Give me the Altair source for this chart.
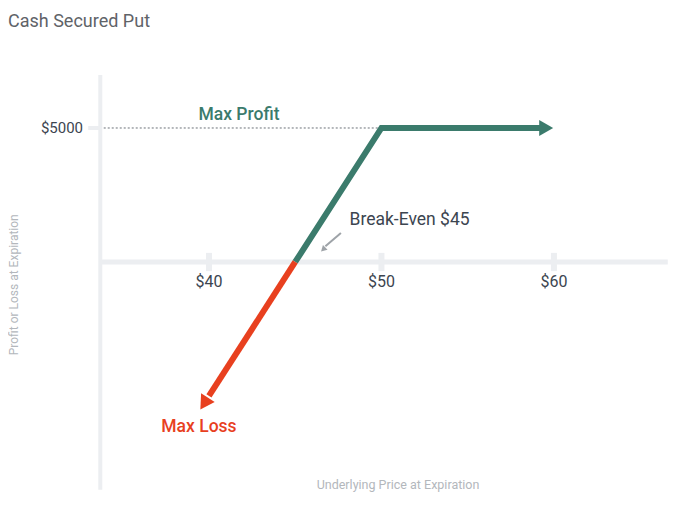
import altair as alt
import pandas as pd

# ---- data ----
profit_x = [45, 50, 59.3]          # green segment (underlying price)
profit_y = [0, 5000, 5000]         # P/L
loss_x = [45, 40.0]                # red segment
loss_y = [0, -5000]
green_head = (59.55, 5000)
red_head = (39.72, -5280)
tick_prices = [40, 50, 60]
tick_labels = ["$40", "$50", "$60"]
max_profit = 5000

GREEN = "#3b7b6c"
RED = "#e8401f"
AXIS = "#eceef1"
TEXT = "#3c4550"
LIGHT = "#b3b7bc"
FONT = "Roboto"

xs = alt.Scale(domain=[28.35, 67.25], nice=False, zero=False)
ys = alt.Scale(domain=[-8918, 7985], nice=False, zero=False)

def X(f="x"):
    return alt.X(f"{f}:Q", scale=xs, axis=None)

def Y(f="y"):
    return alt.Y(f"{f}:Q", scale=ys, axis=None)

# axis lines
vaxis = alt.Chart(pd.DataFrame({"x": [33.7], "y": [6980], "y2": [-8500]})).mark_rule(
    color=AXIS, strokeWidth=4).encode(x=X(), y=Y(), y2="y2:Q")
haxis = alt.Chart(pd.DataFrame({"x": [33.7], "x2": [66.6], "y": [0]})).mark_rule(
    color=AXIS, strokeWidth=5).encode(x=X(), x2="x2:Q", y=Y())
xticks = alt.Chart(pd.DataFrame({"x": tick_prices, "y": [-340] * 3, "y2": [340] * 3})).mark_rule(
    color=AXIS, strokeWidth=6).encode(x=X(), y=Y(), y2="y2:Q")
yticks = alt.Chart(pd.DataFrame({"x": [33.0], "x2": [33.7], "y": [max_profit]})).mark_rule(
    color=AXIS, strokeWidth=4).encode(x=X(), x2="x2:Q", y=Y())
dotted = alt.Chart(pd.DataFrame({"x": [33.9], "x2": [50], "y": [max_profit]})).mark_rule(
    color="#6b7178", strokeWidth=1, strokeDash=[2, 2]).encode(x=X(), x2="x2:Q", y=Y())

# pay-off lines
green = alt.Chart(pd.DataFrame({"x": profit_x, "y": profit_y, "o": range(3)})).mark_line(
    color=GREEN, strokeWidth=6, strokeJoin="miter").encode(x=X(), y=Y(), order="o:Q")
red = alt.Chart(pd.DataFrame({"x": loss_x, "y": loss_y, "o": range(2)})).mark_line(
    color=RED, strokeWidth=6).encode(x=X(), y=Y(), order="o:Q")
ghead = alt.Chart(pd.DataFrame({"x": [green_head[0]], "y": [green_head[1]]})).mark_point(
    shape="triangle-up", filled=True, color=GREEN, opacity=1, size=260, angle=90).encode(x=X(), y=Y())
rhead = alt.Chart(pd.DataFrame({"x": [red_head[0]], "y": [red_head[1]]})).mark_point(
    shape="triangle-up", filled=True, color=RED, opacity=1, size=260, angle=212.7).encode(x=X(), y=Y())

# break-even pointer
pointer = alt.Chart(pd.DataFrame({"x": [47.65, 46.75], "y": [1082, 590], "o": [0, 1]})).mark_line(
    color="#9ea3a8", strokeWidth=2).encode(x=X(), y=Y(), order="o:Q")
phead = alt.Chart(pd.DataFrame({"x": [46.62], "y": [470]})).mark_point(
    shape="triangle-up", filled=True, color="#9ea3a8", opacity=1, size=45, angle=226.5).encode(x=X(), y=Y())

# texts
tick_text = alt.Chart(pd.DataFrame({"x": tick_prices, "y": [-750] * 3, "t": tick_labels})).mark_text(
    font=FONT, fontSize=16, color=TEXT, baseline="middle").encode(x=X(), y=Y(), text="t:N")
ylab = alt.Chart(pd.DataFrame({"x": [32.7], "y": [max_profit], "t": ["$5000"]})).mark_text(
    font=FONT, fontSize=15, color=TEXT, align="right", baseline="middle").encode(x=X(), y=Y(), text="t:N")
annot_med = alt.Chart(pd.DataFrame({
    "x": [41.74, 39.42],
    "y": [5485, -6157],
    "t": ["Max Profit", "Max Loss"],
    "c": [GREEN, RED],
})).mark_text(font=FONT, fontSize=17.5, fontWeight=500, baseline="middle").encode(
    x=X(), y=Y(), text="t:N", color=alt.Color("c:N", scale=None))
annot_be = alt.Chart(pd.DataFrame({"x": [51.63], "y": [1567], "t": ["Break-Even $45"]})).mark_text(
    font=FONT, fontSize=17.5, fontWeight="normal", color=TEXT, baseline="middle").encode(
    x=X(), y=Y(), text="t:N")
xtitle = alt.Chart(pd.DataFrame({"x": [50.96], "y": [-8321], "t": ["Underlying Price at Expiration"]})).mark_text(
    font=FONT, fontSize=12.5, color=LIGHT, baseline="middle").encode(x=X(), y=Y(), text="t:N")
ytitle = alt.Chart(pd.DataFrame({"x": [28.72], "y": [-850], "t": ["Profit or Loss at Expiration"]})).mark_text(
    font=FONT, fontSize=12, color=LIGHT, baseline="middle", angle=270).encode(x=X(), y=Y(), text="t:N")

chart = alt.layer(
    vaxis, haxis, xticks, yticks, dotted, green, red, ghead, rhead, pointer, phead,
    tick_text, ylab, annot_med, annot_be, xtitle, ytitle,
).properties(
    width=671, height=453,
    autosize="none",
    padding={"left": 0, "top": 40, "right": 0, "bottom": 0},
    title=alt.TitleParams("Cash Secured Put", anchor="start", fontSize=18, font=FONT,
                          fontWeight="normal", color="#5f6368", offset=17),
).configure_view(stroke=None)

chart.save("out.html", embed_options={"renderer": "svg", "actions": False})
